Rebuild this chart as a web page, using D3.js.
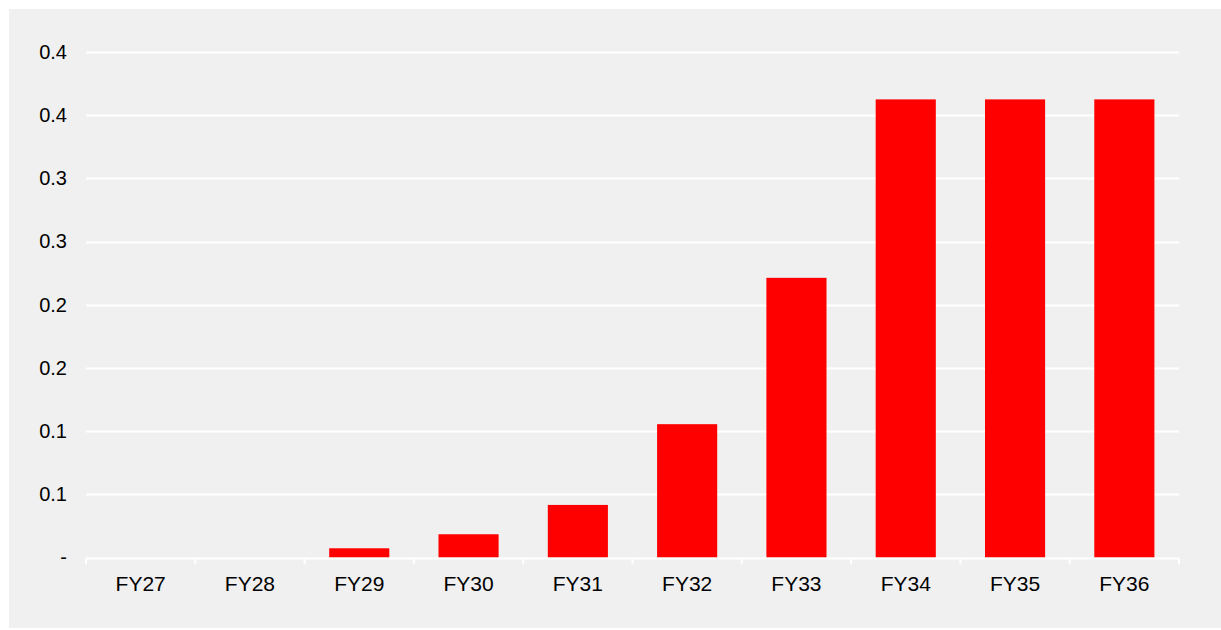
<!DOCTYPE html>
<html>
<head>
<meta charset="utf-8">
<script src="https://cdn.jsdelivr.net/npm/d3@7/dist/d3.min.js"></script>
<style>
  html, body { margin: 0; padding: 0; background: #ffffff; }
  svg { display: block; }
  text { font-family: "Liberation Sans", Arial, sans-serif; fill: #000; }
</style>
</head>
<body>
<svg id="chart" width="1221" height="630"></svg>
<script>
// Fiscal years and their values
const categories = ["FY27", "FY28", "FY29", "FY30", "FY31", "FY32", "FY33", "FY34", "FY35", "FY36"];
const values = [0, 0, 0.0073, 0.0184, 0.0416, 0.1055, 0.2213, 0.3625, 0.3625, 0.3625];
// Gridline positions on the value axis
const yTicks = [0, 0.05, 0.10, 0.15, 0.20, 0.25, 0.30, 0.35, 0.40];

const W = 1221, H = 630;
const margin = { left: 86, right: 42, top: 52, bottom: 72.5 };

const svg = d3.select("#chart");

// panel background
svg.append("rect")
  .attr("x", 9).attr("y", 9)
  .attr("width", W - 9).attr("height", 619)
  .attr("fill", "#f0f0f0");

const x = d3.scaleBand()
  .domain(categories)
  .range([margin.left, W - margin.right])
  .paddingInner(0.45)
  .paddingOuter(0.225);

const y = d3.scaleLinear()
  .domain([0, 0.4])
  .range([H - margin.bottom, margin.top]);

// number format: one decimal, dash for zero
const fmt = v => v === 0 ? "-" : d3.format(".1f")(v + 1e-9);

// gridlines
svg.append("g")
  .selectAll("line")
  .data(yTicks.filter(d => d > 0))
  .join("line")
  .attr("x1", margin.left).attr("x2", W - margin.right)
  .attr("y1", d => Math.round(y(d)) + 0.5).attr("y2", d => Math.round(y(d)) + 0.5)
  .attr("stroke", "#ffffff").attr("stroke-width", 2);

// value axis labels
const yAxis = d3.axisLeft(y)
  .tickValues(yTicks)
  .tickFormat(fmt)
  .tickSize(0)
  .tickPadding(19);
const gy = svg.append("g")
  .attr("transform", `translate(${margin.left},0)`)
  .call(yAxis);
gy.select(".domain").remove();
gy.selectAll("text")
  .style("font-size", "20px")
  .style("font-family", "'Liberation Sans', Arial, sans-serif")
  .attr("fill", "#111");

// bars
svg.append("g")
  .selectAll("rect")
  .data(categories.map((c, i) => ({ c, v: values[i] })))
  .join("rect")
  .attr("x", d => x(d.c))
  .attr("width", x.bandwidth())
  .attr("y", d => y(d.v))
  .attr("height", d => y(0) - y(d.v))
  .attr("fill", "#ff0000");

// category axis: white baseline with ticks between categories
const y0 = Math.round(y(0)) + 0.5;
const step = x.step();
const axisG = svg.append("g");
axisG.append("line")
  .attr("x1", margin.left).attr("x2", W - margin.right)
  .attr("y1", y0).attr("y2", y0)
  .attr("stroke", "#ffffff").attr("stroke-width", 2);
axisG.selectAll("line.tick")
  .data(d3.range(categories.length + 1))
  .join("line")
  .attr("class", "tick")
  .attr("x1", i => margin.left + i * step).attr("x2", i => margin.left + i * step)
  .attr("y1", y0).attr("y2", y0 + 6)
  .attr("stroke", "#ffffff").attr("stroke-width", 2);

const xAxis = d3.axisBottom(x).tickSize(0).tickPadding(19);
const gx = svg.append("g")
  .attr("transform", `translate(0,${y(0)})`)
  .call(xAxis);
gx.select(".domain").remove();
gx.selectAll("text")
  .style("font-size", "21px")
  .style("font-family", "'Liberation Sans', Arial, sans-serif")
  .attr("fill", "#111");
</script>
</body>
</html>
